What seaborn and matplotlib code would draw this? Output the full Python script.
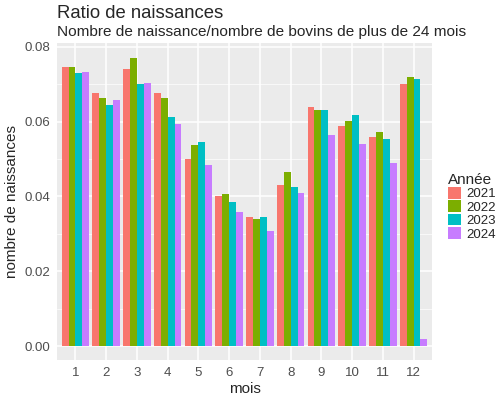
import pandas as pd
import numpy as np
import matplotlib
matplotlib.use("Agg")
import matplotlib.pyplot as plt
import seaborn as sns

# Données
mois = [1, 2, 3, 4, 5, 6, 7, 8, 9, 10, 11, 12]
annees = ["2021", "2022", "2023", "2024"]
r2021 = [0.0747, 0.0677, 0.0740, 0.0676, 0.0500, 0.0400, 0.0346, 0.0431, 0.0638, 0.0589, 0.0559, 0.0700]
r2022 = [0.0747, 0.0663, 0.0769, 0.0663, 0.0538, 0.0407, 0.0339, 0.0464, 0.0631, 0.0601, 0.0571, 0.0718]
r2023 = [0.0730, 0.0644, 0.0700, 0.0613, 0.0546, 0.0384, 0.0344, 0.0425, 0.0630, 0.0618, 0.0553, 0.0713]
r2024 = [0.0733, 0.0658, 0.0703, 0.0594, 0.0485, 0.0359, 0.0309, 0.0409, 0.0563, 0.0539, 0.0490, 0.0019]
couleurs = ["#F8766D", "#7CAE00", "#00BFC4", "#C77CFF"]

df = pd.DataFrame({
    "mois": mois * 4,
    "ratio": r2021 + r2022 + r2023 + r2024,
    "annee": sum([[a] * 12 for a in annees], []),
})

sns.set_style("darkgrid", {"axes.facecolor": "#EBEBEB", "grid.color": "white"})
plt.rcParams["font.family"] = ["Liberation Sans", "DejaVu Sans"]

fig = plt.figure(figsize=(5, 3.97), dpi=100)
ax = fig.add_axes([0.114, 0.0932, 0.75, 0.7985])

sns.barplot(data=df, x="mois", y="ratio", hue="annee", palette=couleurs,
            width=0.9, saturation=1, errorbar=None, linewidth=0, ax=ax)

ax.set_xlim(-0.6, 11.6)
ax.set_ylim(-0.0037, 0.081)
ax.set_yticks([0, 0.02, 0.04, 0.06, 0.08])
ax.set_yticklabels(["0.00", "0.02", "0.04", "0.06", "0.08"])
ax.set_yticks([0.01, 0.03, 0.05, 0.07], minor=True)
ax.grid(which="major", color="white", linewidth=1.1)
ax.grid(which="minor", axis="y", color="white", linewidth=0.5)
ax.set_axisbelow(True)
for s in ax.spines.values():
    s.set_visible(False)
ax.tick_params(axis="both", which="major", length=3, width=0.8, color="#333333",
               labelsize=9.5, labelcolor="#4D4D4D", pad=2)
ax.tick_params(axis="y", which="minor", length=0)

ax.set_xlabel("mois", fontsize=11, labelpad=2)
ax.set_ylabel("nombre de naissances", fontsize=11, labelpad=4)

handles, labels = ax.get_legend_handles_labels()
ax.legend(handles, labels, title="Année", loc="upper left",
          bbox_to_anchor=(0.885, 0.578), bbox_transform=fig.transFigure,
          frameon=False, fontsize=9.5, title_fontsize=11, handlelength=1.0,
          handleheight=1.0, handletextpad=0.4, labelspacing=0.0,
          borderaxespad=0, alignment="left")

fig.text(0.114, 0.967, "Ratio de naissances", fontsize=13.3, va="center", ha="left")
fig.text(0.114, 0.92, "Nombre de naissance/nombre de bovins de plus de 24 mois",
         fontsize=11.1, va="center", ha="left")

fig.savefig("out.png", dpi=100)
